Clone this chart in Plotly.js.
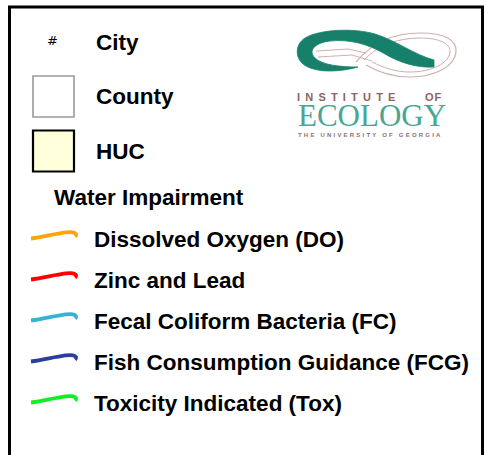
<!DOCTYPE html>
<html>
<head>
<meta charset="utf-8">
<script src="https://cdn.plot.ly/plotly-3.0.1.min.js"></script>
<style>html,body{margin:0;padding:0;background:#fff;}#chart{width:486px;height:455px;}</style>
</head>
<body>
<div id="chart"></div>
<script>
// ---- legend content ----
const featureLabels = ["City", "County", "HUC"];
const featureKinds = ["symbol", "box", "box"];
const featureFill = ["", "#ffffff", "#ffffdc"];
const featureEdge = ["", "#9a9a9a", "#000000"];
const sectionTitle = "Water Impairment";
const impairmentLabels = [
  "Dissolved Oxygen (DO)",
  "Zinc and Lead",
  "Fecal Coliform Bacteria (FC)",
  "Fish Consumption Guidance (FCG)",
  "Toxicity Indicated (Tox)"
];
const impairmentColors = ["#ffa500", "#ff0000", "#33b4d4", "#283f9c", "#11ee22"];
const logoWords = ["INSTITUTE", "OF", "ECOLOGY", "THE UNIVERSITY OF GEORGIA"];

// ---- layout helpers ----
const FONT = "Liberation Sans, Arial, sans-serif";
const shapes = [];
const annotations = [];

// frame
shapes.push({type: "path", path: "M9.5,460 L9.5,7 L482.5,7 L482.5,460",
  line: {color: "#000", width: 3}});

function label(txt, x, y, size, opts) {
  annotations.push(Object.assign({
    text: txt, x: x, y: y, xref: "x", yref: "y", showarrow: false,
    xanchor: "left", yanchor: "middle",
    font: {family: FONT, size: size, color: "#000", weight: 700}
  }, opts || {}));
}

// feature rows
const featY0 = 42, featStep = 54.5;
featureLabels.forEach((t, i) => {
  const y = featY0 + featStep * i;
  if (featureKinds[i] === "symbol") {
    annotations.push({text: "#", x: 52, y: y - 1.5, xref: "x", yref: "y", showarrow: false,
      xanchor: "center", yanchor: "middle",
      font: {family: "DejaVu Sans, sans-serif", size: 13, color: "#000"}});
  } else {
    shapes.push({type: "rect", x0: 33, x1: 74, y0: y - 20.5, y1: y + 20.5,
      fillcolor: featureFill[i], line: {color: featureEdge[i], width: i === 2 ? 2.2 : 1.6}});
  }
  label(t, 94, y, 22.5);
});

// section title
label(sectionTitle, 52, 197, 22.5);

// impairment rows
const impY0 = 239.5, impStep = 41;
impairmentLabels.forEach((t, i) => {
  const y = impY0 + impStep * i;
  const p = `M31,${y-1} C40,${y-2} 48,${y-4} 56,${y-5.5} C62,${y-6.5} 68,${y-7.8} 73,${y-7.2} C76,${y-6.8} 77,${y-4.8} 75,${y-3}`;
  shapes.push({type: "path", path: p, line: {color: impairmentColors[i], width: 3.8}});
  label(t, 92, y, 22.5);
});

// ---- logo ----
const teal = "#17806a", pink = "#cdb0b0";
// right lobe outline (thin pinkish double lines)
shapes.push({type: "path", path: "M356,62 C373,42 395,33 420,33 C445,33 457,40 456,52 C455,66 435,77 410,77 C392,77 378,72 366,65",
  line: {color: pink, width: 1.2}});
shapes.push({type: "path", path: "M364,60 C378,45 398,38 420,38 C440,38 451,44 450,52 C449,63 432,72 410,72 C396,72 384,68 372,62",
  line: {color: pink, width: 1}});
// teal swoosh
shapes.push({type: "path",
  path: "M434,60 C415,55 395,40 375,34 C355,28 320,29 305,38 C294,45 295,60 306,66 C318,73 340,72 358,67 C340,67 322,65 315,58 C308,51 314,43 330,41 C350,39 368,44 385,54 C400,63 418,68 434,67 Z",
  fillcolor: teal, line: {color: teal, width: 0.8}});
// inner lines of left lobe
shapes.push({type: "path", path: "M316,51 L348,49 L366,53", line: {color: pink, width: 1}});
shapes.push({type: "path", path: "M318,57 L352,55 L372,61", line: {color: pink, width: 1}});

annotations.push({text: '<span style="letter-spacing:5.2px">' + logoWords[0] + '</span>', x: 295, y: 96, xref: "x", yref: "y",
  showarrow: false, xanchor: "left", yanchor: "middle", height: 11,
  font: {family: FONT, size: 11, color: "#8c6464", weight: 700}});
annotations.push({text: '<span style="letter-spacing:1px">' + logoWords[1] + '</span>', x: 423, y: 96, xref: "x", yref: "y",
  showarrow: false, xanchor: "left", yanchor: "middle", height: 11,
  font: {family: FONT, size: 11, color: "#8c6464", weight: 700}});
annotations.push({text: logoWords[2], x: 372, y: 115, xref: "x", yref: "y",
  showarrow: false, xanchor: "center", yanchor: "middle", height: 26,
  font: {family: "Liberation Serif, Times New Roman, serif", size: 31, color: "#4aa592"}});
annotations.push({text: '<span style="letter-spacing:2.2px">' + logoWords[3] + '</span>', x: 370, y: 134, xref: "x", yref: "y",
  showarrow: false, xanchor: "center", yanchor: "middle", height: 7,
  font: {family: FONT, size: 6, color: "#8c7070", weight: 700}});

const layout = {
  width: 486, height: 455,
  margin: {l: 0, r: 0, t: 0, b: 0, pad: 0},
  paper_bgcolor: "#fff", plot_bgcolor: "#fff",
  showlegend: false,
  xaxis: {range: [0, 486], visible: false, fixedrange: true},
  yaxis: {range: [455, 0], visible: false, fixedrange: true},
  shapes: shapes,
  annotations: annotations
};
Plotly.newPlot("chart", [], layout, {staticPlot: true, displayModeBar: false});
</script>
</body>
</html>
